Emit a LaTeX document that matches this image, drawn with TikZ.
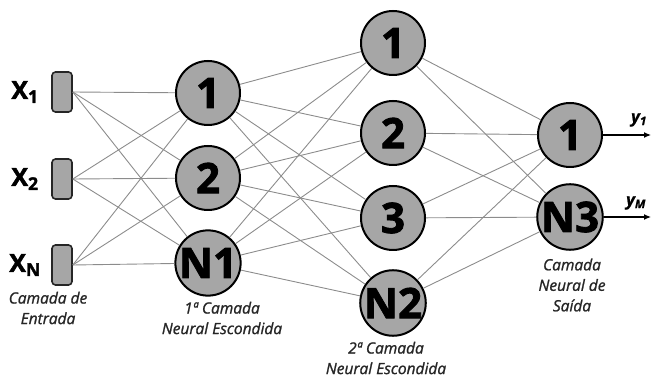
\documentclass[tikz,border=0pt]{standalone}
\usepackage{fontspec}
\setmainfont{Open Sans}
% heavier weights obtained by emboldening Open Sans
\newfontfamily\heavyfont{Open Sans Bold}[FakeBold=2]
\newfontfamily\semiitalic{Open Sans Italic}[FakeBold=1.2]
\newfontfamily\boldital{Open Sans Bold Italic}[FakeBold=0.8]
\usetikzlibrary{arrows.meta}
\definecolor{nodegray}{HTML}{A6A6A6}
\definecolor{wiregray}{HTML}{8C8C8C}
\definecolor{labelgray}{HTML}{262626}
\tikzset{
  neuron/.style={circle, draw=black, line width=2pt, fill=nodegray,
    minimum size=64pt, inner sep=0pt, font=\fontsize{42}{42}\heavyfont},
  inbox/.style={rectangle, rounded corners=3.5pt, draw=black!85, line width=1.6pt,
    fill=nodegray, minimum width=20pt, minimum height=40pt, inner sep=0pt},
  wire/.style={draw=wiregray, line width=0.9pt},
  layerlabel/.style={align=center, font=\fontsize{15.5}{20.5}\semiitalic, text=labelgray},
  xlabel/.style={font=\fontsize{25}{25}\heavyfont},
  ylabel/.style={font=\fontsize{17}{17}\boldital},
  outarrow/.style={draw=black, line width=1.2pt, -{Latex[length=7pt,width=6pt]}}
}
\begin{document}
\begin{tikzpicture}[x=1pt,y=-1pt]
\useasboundingbox (0,0) rectangle (651,379);

% input layer
\node[inbox] (i1) at (62,92) {};
\node[inbox] (i2) at (62,179) {};
\node[inbox] (i3) at (62,265) {};
\node[xlabel] (xl1) at (25,92) {X\textsubscript{1}};
\node[xlabel] (xl2) at (25,179) {X\textsubscript{2}};
\node[xlabel] (xl3) at (25,265) {X\textsubscript{N}};

% first hidden layer
\node[neuron] (a1) at (208,93) {1};
\node[neuron] (a2) at (208,178) {2};
\node[neuron] (a3) at (208,263) {N1};

% second hidden layer
\node[neuron] (b1) at (393,43) {1};
\node[neuron] (b2) at (393,133) {2};
\node[neuron] (b3) at (393,218) {3};
\node[neuron] (b4) at (393,303) {N2};

% output layer
\node[neuron] (c1) at (570,135) {1};
\node[neuron] (c2) at (570,217) {N3};

% connections
\foreach \i in {1,2,3}
  \foreach \j in {1,2,3}
    \draw[wire] (i\i.east) -- (a\j);
\foreach \i in {1,2,3}
  \foreach \j in {1,2,3,4}
    \draw[wire] (a\i) -- (b\j);
\foreach \i in {1,2,3,4}
  \foreach \j in {1,2}
    \draw[wire] (b\i) -- (c\j);

% outputs
\coordinate (e1) at (651,135);
\coordinate (e2) at (651,217);
\draw[outarrow] (c1) -- (e1);
\draw[outarrow] (c2) -- (e2);
\node[ylabel] (yl1) at (639,120) {y\textsubscript{1}};
\node[ylabel] (yl2) at (636,203) {y\textsubscript{M}};

% layer captions
\node[layerlabel] (li) at (48,308) {Camada de\\Entrada};
\node[layerlabel] (lh1) at (222,318) {1ª Camada\\Neural Escondida};
\node[layerlabel] (lh2) at (386,358) {2ª Camada\\Neural Escondida};
\node[layerlabel] (lo) at (572,285) {Camada\\Neural de\\Saída};
\end{tikzpicture}
\end{document}
